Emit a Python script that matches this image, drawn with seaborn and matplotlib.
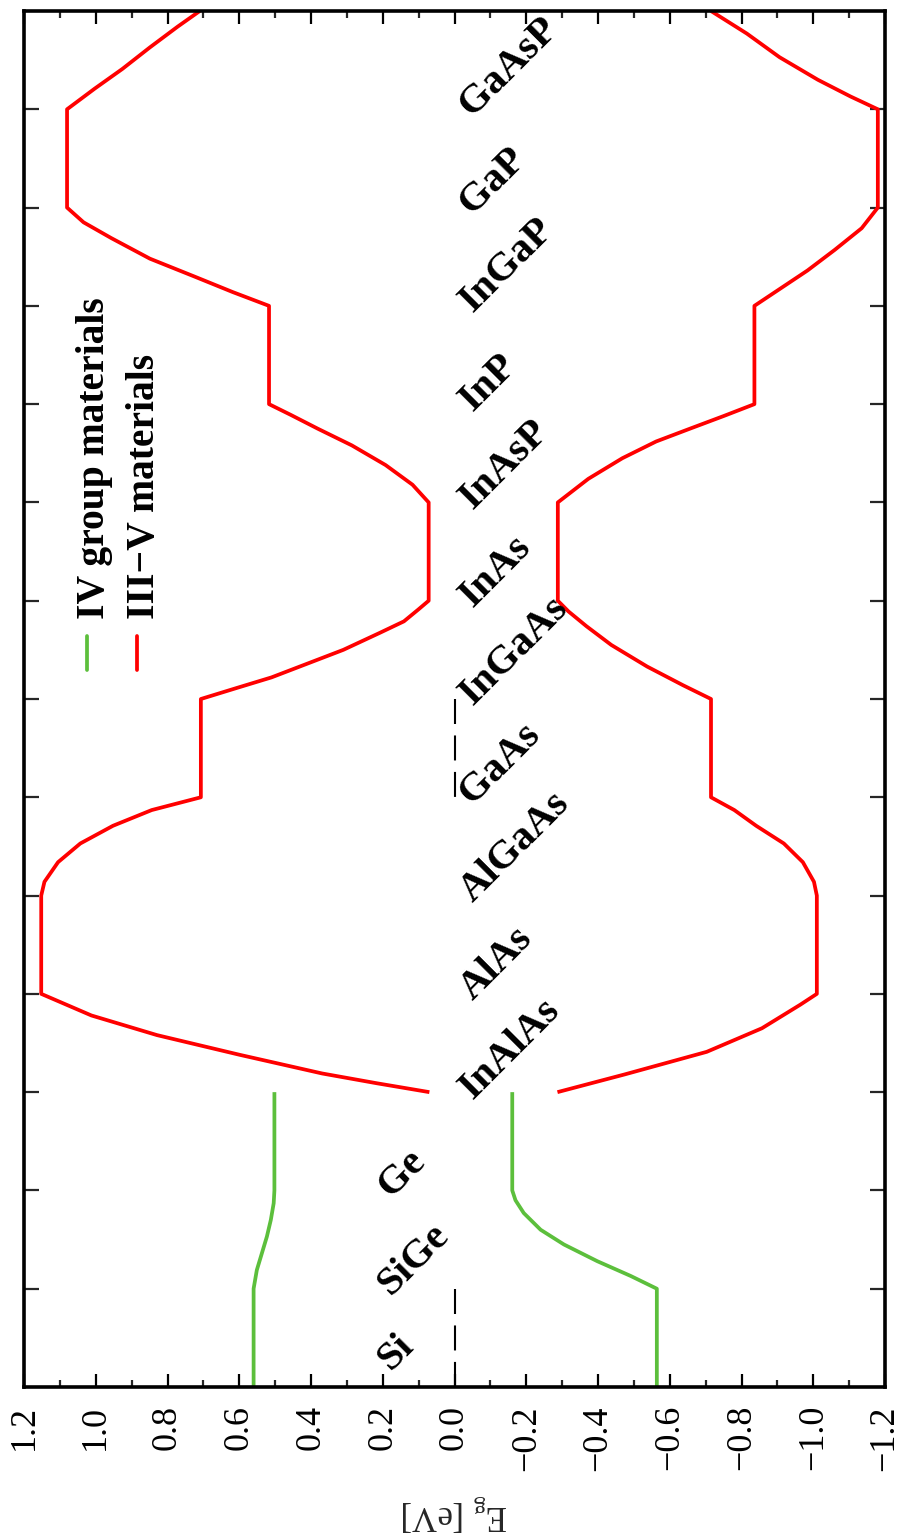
import numpy as np
import matplotlib
matplotlib.use("Agg")
import matplotlib.pyplot as plt
from matplotlib.ticker import FixedLocator, MultipleLocator, FuncFormatter, NullLocator
import seaborn as sns

# Materials, one unit-wide segment each along the vertical axis
materials = ["Si", "SiGe", "Ge", "InAlAs", "AlAs", "AlGaAs", "GaAs",
             "InGaAs", "InAs", "InAsP", "InP", "InGaP", "GaP", "GaAsP"]
group_iv = ["Si", "SiGe", "Ge"]
zero_ref = ["Si", "GaAs"]

# Group IV band edges (position along material axis, energy in eV)
iv_pos_upper = [0, 1, 1.19, 1.36, 1.53, 1.70, 1.87, 2, 3]
iv_e_upper = [0.560, 0.560, 0.551, 0.537, 0.523, 0.512, 0.504, 0.502, 0.502]
iv_pos_lower = [0, 1, 1.13, 1.28, 1.45, 1.60, 1.77, 1.90, 2, 3]
iv_e_lower = [-0.564, -0.564, -0.491, -0.398, -0.305, -0.240, -0.193, -0.170, -0.161, -0.161]

# III-V band edges
v_pos_upper = [3, 3.09, 3.19, 3.38, 3.58, 3.78, 4,
               5, 5.14, 5.34, 5.53, 5.71, 5.87, 6,
               7, 7.11, 7.22, 7.36, 7.50, 7.67, 7.79, 7.91, 8,
               9, 9.18, 9.38, 9.58, 9.75, 9.89, 10,
               11, 11.14, 11.30, 11.48, 11.69, 11.85, 12,
               13, 13.21, 13.41, 13.63, 13.84, 14]
v_e_upper = [0.070, 0.216, 0.369, 0.599, 0.829, 1.012, 1.152,
             1.152, 1.143, 1.105, 1.043, 0.952, 0.844, 0.707,
             0.707, 0.609, 0.510, 0.410, 0.310, 0.210, 0.141, 0.101, 0.072,
             0.072, 0.117, 0.192, 0.286, 0.381, 0.456, 0.517,
             0.517, 0.618, 0.726, 0.849, 0.957, 1.034, 1.080,
             1.080, 1.003, 0.926, 0.849, 0.772, 0.710]
v_pos_lower = [3, 3.18, 3.41, 3.65, 3.89, 4,
               5, 5.14, 5.34, 5.53, 5.71, 5.87, 6,
               7, 7.14, 7.33, 7.55, 7.74, 7.89, 8,
               9, 9.24, 9.45, 9.62, 9.75, 9.88, 10,
               11, 11.18, 11.36, 11.57, 11.79, 12,
               13, 13.13, 13.30, 13.53, 13.77, 14]
v_e_lower = [-0.287, -0.474, -0.703, -0.857, -0.964, -1.010,
             -1.010, -1.002, -0.971, -0.918, -0.841, -0.780, -0.715,
             -0.715, -0.637, -0.537, -0.437, -0.368, -0.318, -0.288,
             -0.288, -0.373, -0.468, -0.562, -0.656, -0.751, -0.836,
             -0.836, -0.910, -0.984, -1.060, -1.135, -1.180,
             -1.180, -1.104, -1.013, -0.906, -0.815, -0.715]

energy_ticks = [-1.2, -1.0, -0.8, -0.6, -0.4, -0.2, 0.0, 0.2, 0.4, 0.6, 0.8, 1.0, 1.2]
legend_labels = ["IV group materials", "III\u2212V materials"]

GREEN = "#5cbf3c"
RED = "#ff0000"

sns.set_theme(style="ticks")
plt.rcParams["font.family"] = ["Liberation Serif", "DejaVu Serif"]
plt.rcParams["mathtext.fontset"] = "custom"
plt.rcParams["mathtext.rm"] = "Liberation Serif"
plt.rcParams["axes.linewidth"] = 2.6
plt.rcParams["axes.edgecolor"] = "black"

fig = plt.figure(figsize=(8.99, 15.39), dpi=100)
ax = fig.add_axes([24 / 899, 1 - 1387 / 1539, 861 / 899, 1376 / 1539])

curves = [
    (iv_pos_upper, iv_e_upper, GREEN),
    (iv_pos_lower, iv_e_lower, GREEN),
    (v_pos_upper, v_e_upper, RED),
    (v_pos_lower, v_e_lower, RED),
]
for pos, e, col in curves:
    sns.lineplot(x=e, y=pos, orient="y", sort=False, estimator=None,
                 color=col, lw=2.7, ax=ax, legend=False,
                 solid_joinstyle="round", solid_capstyle="butt")

# zero reference of the dashed segments
for name in zero_ref:
    i = materials.index(name)
    ax.plot([0.0, 0.0], [i + 1, i], color="black", lw=1.5,
            linestyle=(0, (12, 5.5)), solid_capstyle="butt")

ax.set_xlim(1.2, -1.2)
ax.set_ylim(0, len(materials))

ax.xaxis.set_major_locator(FixedLocator(energy_ticks))
ax.xaxis.set_minor_locator(MultipleLocator(0.1))


def fmt(v, _):
    s = f"{v:.1f}"
    if s == "-0.0":
        s = "0.0"
    return s.replace("-", "\u2212")


ax.xaxis.set_major_formatter(FuncFormatter(fmt))
ax.tick_params(axis="x", which="major", direction="in", top=True, bottom=True,
               length=9.5, width=1.6, labelsize=26, labelrotation=90, pad=13,
               colors="black")
ax.tick_params(axis="x", which="minor", direction="in", top=True, bottom=True,
               length=5, width=1.6)
ax.yaxis.set_major_locator(FixedLocator(range(1, len(materials))))
ax.yaxis.set_minor_locator(NullLocator())
ax.tick_params(axis="y", which="major", direction="in", left=True, right=True,
               labelleft=False, length=11, width=1.6)

ax.set_xlabel(r"E$_\mathregular{g}$ [eV]", fontsize=25, rotation=180, labelpad=16)
ax.set_ylabel("")

# material names
for i, name in enumerate(materials):
    e0 = 0.232 if name in group_iv else 0.006
    y0 = max(i - 0.14, 0.10)
    ax.text(e0, y0, name, rotation=45, ha="left", va="bottom",
            fontsize=29.5, fontweight="bold", color="black")

# legend with vertical entries
for k, (lab, col) in enumerate(zip(legend_labels, [GREEN, RED])):
    xs = 0.073 + k * 0.058
    ax.plot([xs, xs], [0.521, 0.546], color=col, lw=2.7, transform=ax.transAxes)
    ax.text(xs + 0.009, 0.558, lab, rotation=90, ha="center", va="bottom",
            fontsize=28.5, fontweight="bold", color="black", transform=ax.transAxes)

fig.savefig("out.png", dpi=100, facecolor="white")
